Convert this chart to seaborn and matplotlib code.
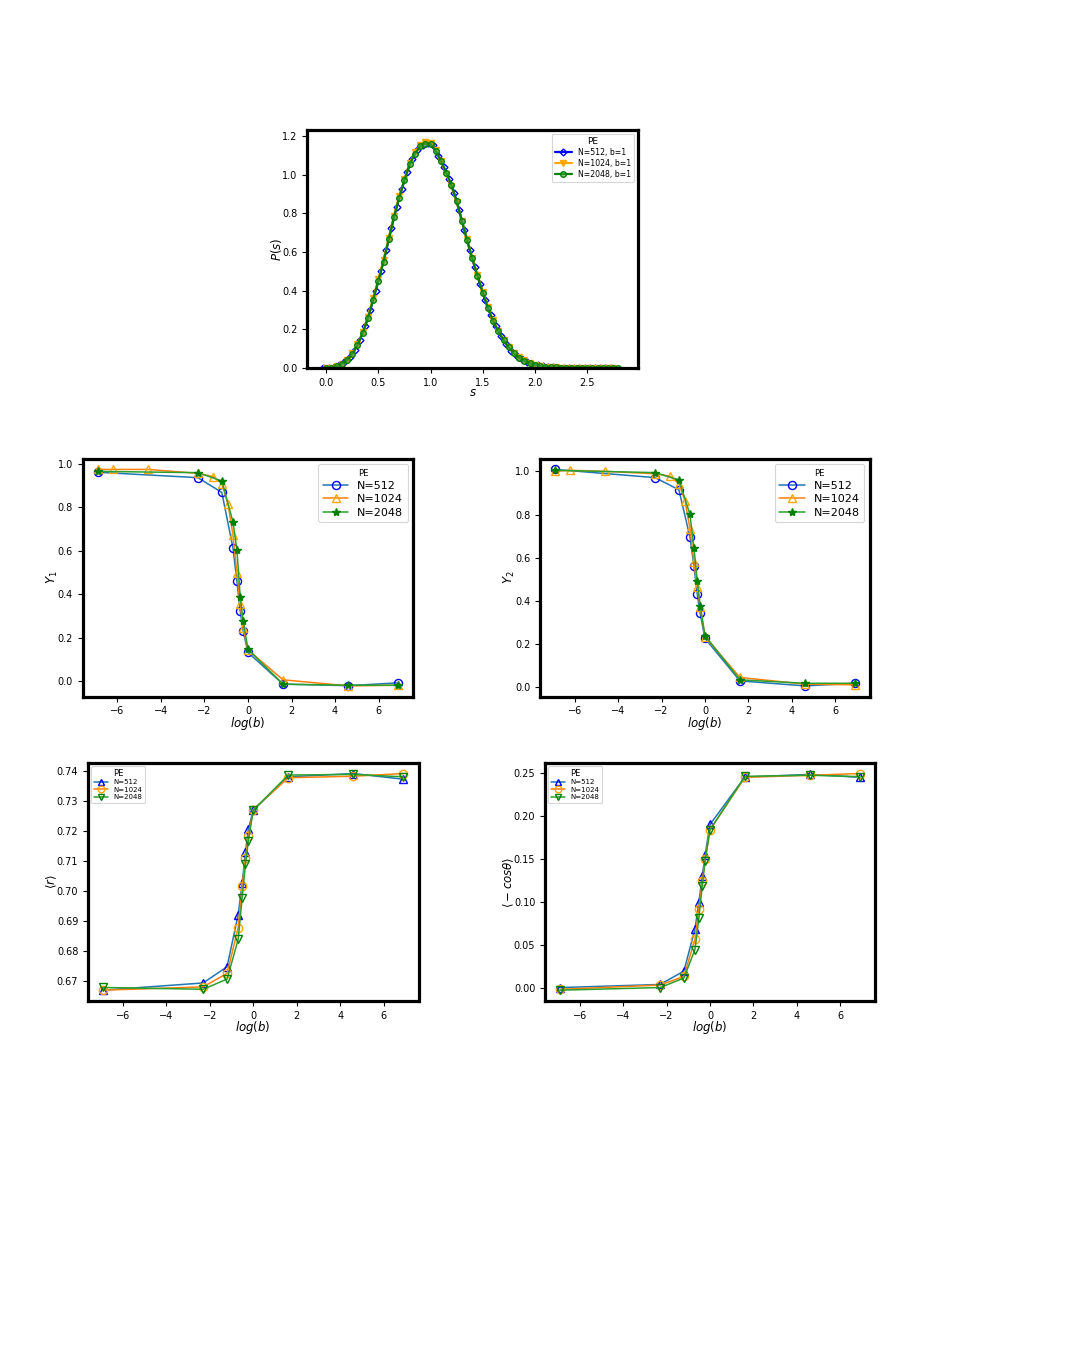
import numpy as np
import matplotlib
matplotlib.use("Agg")
import matplotlib.pyplot as plt
import seaborn as sns

sns.set_theme(style="ticks", context="paper")
plt.rcParams['font.family'] = ['DejaVu Sans']
plt.rcParams.update({
    'axes.edgecolor': 'black', 'xtick.color': 'black', 'ytick.color': 'black',
    'text.color': 'black', 'axes.labelcolor': 'black',
    'xtick.major.size': 3.5, 'ytick.major.size': 3.5,
    'xtick.major.width': 0.8, 'ytick.major.width': 0.8,
    'xtick.major.pad': 3.5, 'ytick.major.pad': 3.5,
    'mathtext.fontset': 'dejavusans',
})

# ---- spacing distribution P(s), b=1 ----
s_512 = [-0.025, 0.025, 0.075, 0.125, 0.175, 0.225, 0.275, 0.325, 0.375, 0.425,
         0.475, 0.525, 0.575, 0.625, 0.675, 0.725, 0.775, 0.825, 0.875, 0.925,
         0.975, 1.025, 1.075, 1.125, 1.175, 1.225, 1.275, 1.325, 1.375, 1.425,
         1.475, 1.525, 1.575, 1.625, 1.675, 1.725, 1.775, 1.825, 1.875, 1.925,
         1.975, 2.025, 2.075, 2.125, 2.175, 2.225, 2.275, 2.325, 2.375, 2.425,
         2.475, 2.525, 2.575, 2.625, 2.675, 2.725]
p_512 = [0.000, 0.001, 0.004, 0.013, 0.029, 0.055, 0.094, 0.147, 0.217, 0.302,
         0.400, 0.500, 0.608, 0.722, 0.830, 0.925, 1.012, 1.082, 1.128, 1.155,
         1.165, 1.150, 1.098, 1.040, 0.978, 0.905, 0.815, 0.712, 0.612, 0.520,
         0.432, 0.350, 0.275, 0.215, 0.165, 0.124, 0.090, 0.064, 0.045, 0.030,
         0.020, 0.013, 0.008, 0.005, 0.003, 0.002, 0.001, 0.001, 0.001, 0.000,
         0.000, 0.000, 0.000, 0.000, 0.000, 0.000]

s_1024 = [0.00, 0.05, 0.10, 0.15, 0.20, 0.25, 0.30, 0.35, 0.40, 0.45,
          0.50, 0.55, 0.60, 0.65, 0.70, 0.75, 0.80, 0.85, 0.90, 0.95,
          1.00, 1.05, 1.10, 1.15, 1.20, 1.25, 1.30, 1.35, 1.40, 1.45,
          1.50, 1.55, 1.60, 1.65, 1.70, 1.75, 1.80, 1.85, 1.90, 1.95,
          2.00, 2.05, 2.10, 2.15, 2.20, 2.25, 2.30, 2.35, 2.40, 2.45,
          2.50, 2.55, 2.60, 2.65, 2.70, 2.75]
p_1024 = [0.000, 0.002, 0.008, 0.021, 0.042, 0.075, 0.122, 0.185, 0.265, 0.360,
          0.458, 0.560, 0.672, 0.788, 0.888, 0.975, 1.058, 1.115, 1.152, 1.170,
          1.162, 1.125, 1.068, 1.005, 0.940, 0.860, 0.762, 0.665, 0.570, 0.480,
          0.395, 0.315, 0.246, 0.192, 0.145, 0.108, 0.078, 0.055, 0.039, 0.026,
          0.017, 0.011, 0.007, 0.005, 0.003, 0.002, 0.002, 0.001, 0.001, 0.001,
          0.000, 0.000, 0.000, 0.000, 0.000, 0.000]

s_2048 = [0.00, 0.05, 0.10, 0.15, 0.20, 0.25, 0.30, 0.35, 0.40, 0.45,
          0.50, 0.55, 0.60, 0.65, 0.70, 0.75, 0.80, 0.85, 0.90, 0.95,
          1.00, 1.05, 1.10, 1.15, 1.20, 1.25, 1.30, 1.35, 1.40, 1.45,
          1.50, 1.55, 1.60, 1.65, 1.70, 1.75, 1.80, 1.85, 1.90, 1.95,
          2.00, 2.05, 2.10, 2.15, 2.20, 2.25, 2.30, 2.35, 2.40, 2.45,
          2.50, 2.55, 2.60, 2.65, 2.70, 2.75, 2.80]
p_2048 = [0.000, 0.002, 0.008, 0.020, 0.040, 0.072, 0.118, 0.180, 0.258, 0.352,
          0.450, 0.550, 0.665, 0.780, 0.880, 0.970, 1.052, 1.108, 1.145, 1.160,
          1.157, 1.122, 1.070, 1.010, 0.945, 0.862, 0.760, 0.662, 0.566, 0.476,
          0.390, 0.310, 0.242, 0.190, 0.143, 0.106, 0.075, 0.053, 0.037, 0.025,
          0.016, 0.010, 0.007, 0.004, 0.003, 0.002, 0.001, 0.001, 0.001, 0.000,
          0.000, 0.000, 0.000, 0.000, 0.000, 0.000, 0.000]

# ---- parameter b scans ----
b_vals = [0.001, 0.1, 0.3, 0.5, 0.6, 0.7, 0.8, 1, 5, 100, 1000]
b_vals_1024 = [0.001, 0.002, 0.01, 0.1, 0.2, 0.3, 0.4, 0.5, 0.6, 0.7, 0.8, 1, 5, 100, 1000]

y1_512 = [0.962, 0.937, 0.869, 0.614, 0.461, 0.321, 0.230, 0.131, -0.015, -0.022, -0.009]
y1_1024 = [0.975, 0.975, 0.975, 0.957, 0.942, 0.910, 0.816, 0.673, 0.496, 0.355, 0.243,
           0.143, 0.005, -0.023, -0.020]
y1_2048 = [0.966, 0.960, 0.922, 0.734, 0.604, 0.386, 0.276, 0.146, -0.015, -0.020, -0.020]

y2_512 = [1.009, 0.971, 0.915, 0.696, 0.562, 0.430, 0.342, 0.226, 0.029, 0.006, 0.018]
y2_1024 = [1.000, 1.005, 1.000, 0.989, 0.977, 0.943, 0.863, 0.735, 0.580, 0.465, 0.373,
           0.234, 0.045, 0.014, 0.011]
y2_2048 = [1.005, 0.994, 0.961, 0.801, 0.646, 0.493, 0.377, 0.239, 0.034, 0.018, 0.018]

r_512 = [0.6670, 0.6694, 0.6748, 0.6922, 0.7026, 0.7131, 0.7207, 0.7270, 0.7381, 0.7392, 0.7373]
r_1024 = [0.6670, 0.6681, 0.6726, 0.6878, 0.7017, 0.7109, 0.7183, 0.7272, 0.7378, 0.7383, 0.7392]
r_2048 = [0.6679, 0.6673, 0.6707, 0.6839, 0.6978, 0.7091, 0.7168, 0.7270, 0.7387, 0.7389, 0.7381]

cos_512 = [0.001, 0.0046, 0.020, 0.0687, 0.100, 0.130, 0.155, 0.190, 0.245, 0.248, 0.2446]
cos_1024 = [-0.001, 0.0039, 0.0139, 0.057, 0.092, 0.124, 0.150, 0.184, 0.2446, 0.247, 0.249]
cos_2048 = [-0.002, 0.001, 0.012, 0.045, 0.082, 0.119, 0.148, 0.1836, 0.2457, 0.247, 0.2454]

logb = np.log(b_vals)
logb_1024 = np.log(b_vals_1024)

W, H = 1090, 1362
fig = plt.figure(figsize=(W / 100, H / 100), dpi=100)
fig.patch.set_facecolor('white')


def add_ax(left, top, right, bottom):
    # pixel box -> figure fraction
    ax = fig.add_axes([left / W, 1 - bottom / H, (right - left) / W, (bottom - top) / H])
    for sp in ax.spines.values():
        sp.set_linewidth(2.3)
        sp.set_color('black')
    ax.tick_params(labelsize=7, length=3.5, width=0.8, pad=3.5)
    return ax


def line(ax, x, y, lc, mk, mec, mfc, ms, label, lw=1.1):
    sns.lineplot(x=x, y=y, ax=ax, color=lc, marker=mk, markersize=ms,
                 markeredgecolor=mec, markerfacecolor=mfc, markeredgewidth=1.0,
                 linewidth=lw, label=label, errorbar=None)


# top: P(s)
ax0 = add_ax(307.3, 130, 638.3, 368)
line(ax0, s_512, p_512, 'blue', 'D', 'blue', 'none', 3.5, 'N=512, b=1', lw=1.6)
line(ax0, s_1024, p_1024, 'orange', 'v', 'orange', 'orange', 4, 'N=1024, b=1', lw=1.6)
line(ax0, s_2048, p_2048, 'green', 'o', 'green', (0.3, 0.65, 0.3, 0.6), 4, 'N=2048, b=1', lw=1.6)
ax0.set_xlim(-0.18, 2.99)
ax0.set_ylim(0, 1.23)
ax0.set_xticks([0.0, 0.5, 1.0, 1.5, 2.0, 2.5])
ax0.set_xlabel('$s$', fontsize=8.5, labelpad=-1)
ax0.set_ylabel('$P(s)$', fontsize=8.5, labelpad=-1.5)
ax0.legend(title='PE', loc='upper right', fontsize=5.6, title_fontsize=6.5,
           labelspacing=0.25, handlelength=2.2, borderpad=0.4)

mid_style = [('tab:blue', 'o', 'blue', 'none', 5.8),
             ('tab:orange', '^', 'orange', 'none', 6.2),
             ('tab:green', '*', 'green', 'green', 6)]
bot_style = [('tab:blue', '^', 'blue', 'none', 6),
             ('tab:orange', 'o', 'orange', 'none', 6),
             ('tab:green', 'v', 'green', 'none', 6)]
labels = ['N=512', 'N=1024', 'N=2048']


def scan_panel(box, series, style, ylabel, big_legend):
    ax = add_ax(*box)
    for (x, y), st, lab in zip(series, style, labels):
        line(ax, x, y, st[0], st[1], st[2], st[3], st[4], lab)
    ax.set_xlabel('$log(b)$', fontsize=8.5, labelpad=-1)
    ax.set_ylabel(ylabel, fontsize=8.5, labelpad=-1.5)
    ax.set_xticks([-6, -4, -2, 0, 2, 4, 6])
    if big_legend:
        ax.legend(title='PE', loc='upper right', fontsize=8, title_fontsize=6,
                  labelspacing=0.3, handlelength=2.3)
    else:
        ax.legend(title='PE', loc='upper left', fontsize=5, title_fontsize=6,
                  labelspacing=0.2, handlelength=2.0, borderpad=0.4, markerscale=0.8)
    return ax


scan_panel((82.7, 458.6, 413.3, 696.7),
           [(logb, y1_512), (logb_1024, y1_1024), (logb, y1_2048)],
           mid_style, '$Y_1$', True)
scan_panel((540, 458.6, 870, 696.7),
           [(logb, y2_512), (logb_1024, y2_1024), (logb, y2_2048)],
           mid_style, '$Y_2$', True)
scan_panel((88, 762.7, 418.5, 1001),
           [(logb, r_512), (logb, r_1024), (logb, r_2048)],
           bot_style, r'$\langle r\rangle$', False)
scan_panel((545, 762.7, 875, 1001),
           [(logb, cos_512), (logb, cos_1024), (logb, cos_2048)],
           bot_style, r'$\langle -cos\theta\rangle$', False)

fig.savefig('out.png', dpi=100, facecolor='white')
